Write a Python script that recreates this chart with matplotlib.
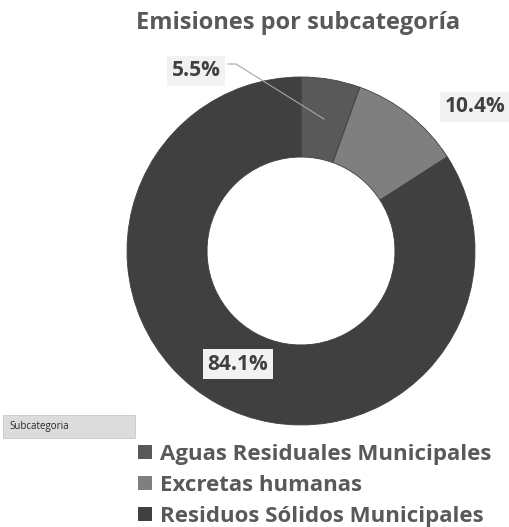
import numpy as np
import matplotlib.pyplot as plt
from matplotlib.patches import FancyBboxPatch
from matplotlib.lines import Line2D

plt.rcParams['font.family'] = ['Open Sans', 'DejaVu Sans']

# --- Data ---
categories = ["Aguas Residuales Municipales", "Excretas humanas", "Residuos Sólidos Municipales"]
shares = [5.5, 10.4, 84.1]
colors = ["#595959", "#7f7f7f", "#404040"]
title = "Emisiones por subcategoría"

W, H = 509, 527
fig = plt.figure(figsize=(W / 100, H / 100), dpi=100)

# donut axes: center (301, 251) px, radius 174 px
cx, cy, r = 301, 251, 174
ax = fig.add_axes([(cx - r) / W, (H - cy - r) / H, 2 * r / W, 2 * r / H])
wedges, _ = ax.pie(shares, colors=colors, startangle=90, counterclock=False,
                   radius=1, wedgeprops=dict(width=0.46, linewidth=0.6, edgecolor="#404040"))
ax.set_xlim(-1, 1)
ax.set_ylim(-1, 1)
ax.set_aspect("equal")
ax.axis("off")

fig.text(298 / W, 1 - 23 / H, title, ha="center", va="center",
         fontsize=17, fontweight="bold", color="#595959")

# --- data labels ---
box = dict(boxstyle="square,pad=0.22", fc="#f2f2f2", ec="none")
label_pos = [(196, 71), (475, 107), (238, 364)]
for val, (lx, ly) in zip(shares, label_pos):
    fig.text(lx / W, 1 - ly / H, f"{val}%", ha="center", va="center",
             fontsize=15, fontweight="bold", color="#404040", bbox=box)

# leader line for the small slice
w0 = wedges[0]
mid = np.deg2rad((w0.theta1 + w0.theta2) / 2)
px, py = ax.transData.transform((0.77 * np.cos(mid), 0.77 * np.sin(mid)))
fig.add_artist(Line2D([228, 236, px], [H - 64, H - 64, py],
                      transform=None, color="#a6a6a6", lw=0.8))

# --- "Subcategoria" field button ---
btn = FancyBboxPatch((3 / W, 1 - 438 / H), 132 / W, 23 / H,
                     boxstyle="square,pad=0", transform=fig.transFigure,
                     fc="#dcdcdc", ec="#c8c8c8", lw=0.6)
fig.patches.append(btn)
fig.text(9 / W, 1 - 427 / H, "Subcategoria", ha="left", va="center",
         fontsize=7, color="#262626")

# --- legend ---
leg = fig.legend(wedges, categories, loc="upper left",
                 bbox_to_anchor=(138 / W, 1 - 444 / H), frameon=False,
                 borderpad=0, borderaxespad=0,
                 handlelength=0.62, handleheight=0.62, handletextpad=0.38,
                 labelspacing=0.44, prop=dict(size=16, weight="bold"))
for t in leg.get_texts():
    t.set_color("#595959")
for hnd in leg.legend_handles:
    hnd.set_edgecolor("none")

fig.savefig("out.png", dpi=100)
